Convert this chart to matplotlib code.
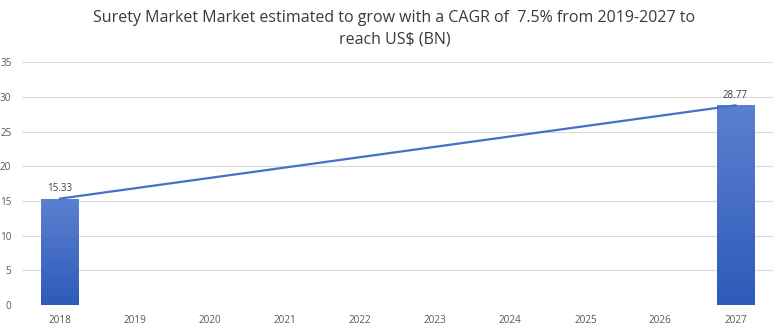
import numpy as np
import matplotlib.pyplot as plt
from matplotlib.colors import LinearSegmentedColormap

years = ["2018", "2019", "2020", "2021", "2022", "2023", "2024", "2025", "2026", "2027"]
bar_values = [15.33, None, None, None, None, None, None, None, None, 28.77]
line_years = ["2018", "2027"]
line_values = [15.33, 28.77]

title = "Surety Market Market estimated to grow with a CAGR of  7.5% from 2019-2027 to\nreach US$ (BN)"

plt.rcParams['font.family'] = ['Open Sans', 'DejaVu Sans']

fig = plt.figure(figsize=(7.81, 3.30), dpi=100)
ax = fig.add_axes([0.0288, 0.0758, 0.961, 0.736])

x = np.arange(len(years))
grad = LinearSegmentedColormap.from_list("g", ["#2E5BB8", "#5B80D0"])
gimg = np.linspace(0, 1, 256).reshape(-1, 1)

# bars with a vertical gradient, clipped to the bar shape
for i, v in enumerate(bar_values):
    if v is None:
        continue
    bar = ax.bar(x[i], v, width=0.5, color="none", edgecolor="none", zorder=2)[0]
    im = ax.imshow(gimg, cmap=grad, origin="lower", aspect="auto",
                   extent=[x[i] - 0.25, x[i] + 0.25, 0, v], zorder=2)
    im.set_clip_path(bar)
    ax.text(x[i], v + 0.6, f"{v:.2f}", ha="center", va="bottom",
            fontsize=7, color="#404040")

lx = [years.index(y) for y in line_years]
ax.plot(lx, line_values, color="#4472C4", lw=1.6, zorder=3)

ax.set_xlim(-0.5, len(years) - 0.5)
ax.set_ylim(0, 35)
ax.set_yticks(range(0, 36, 5))
ax.set_xticks(x)
ax.set_xticklabels(years)
ax.tick_params(length=0, labelsize=7.2, colors="#595959")
ax.tick_params(axis="y", pad=8)
ax.tick_params(axis="x", pad=7)
ax.grid(axis="y", color="#D9D9D9", lw=0.8, zorder=0)
ax.set_axisbelow(True)
for s in ax.spines.values():
    s.set_visible(False)

fig.text(0.505, 0.97, title, ha="center", va="top", fontsize=11.5,
         color="#3A3A3A", linespacing=1.45)

fig.savefig("out.png", dpi=100)
